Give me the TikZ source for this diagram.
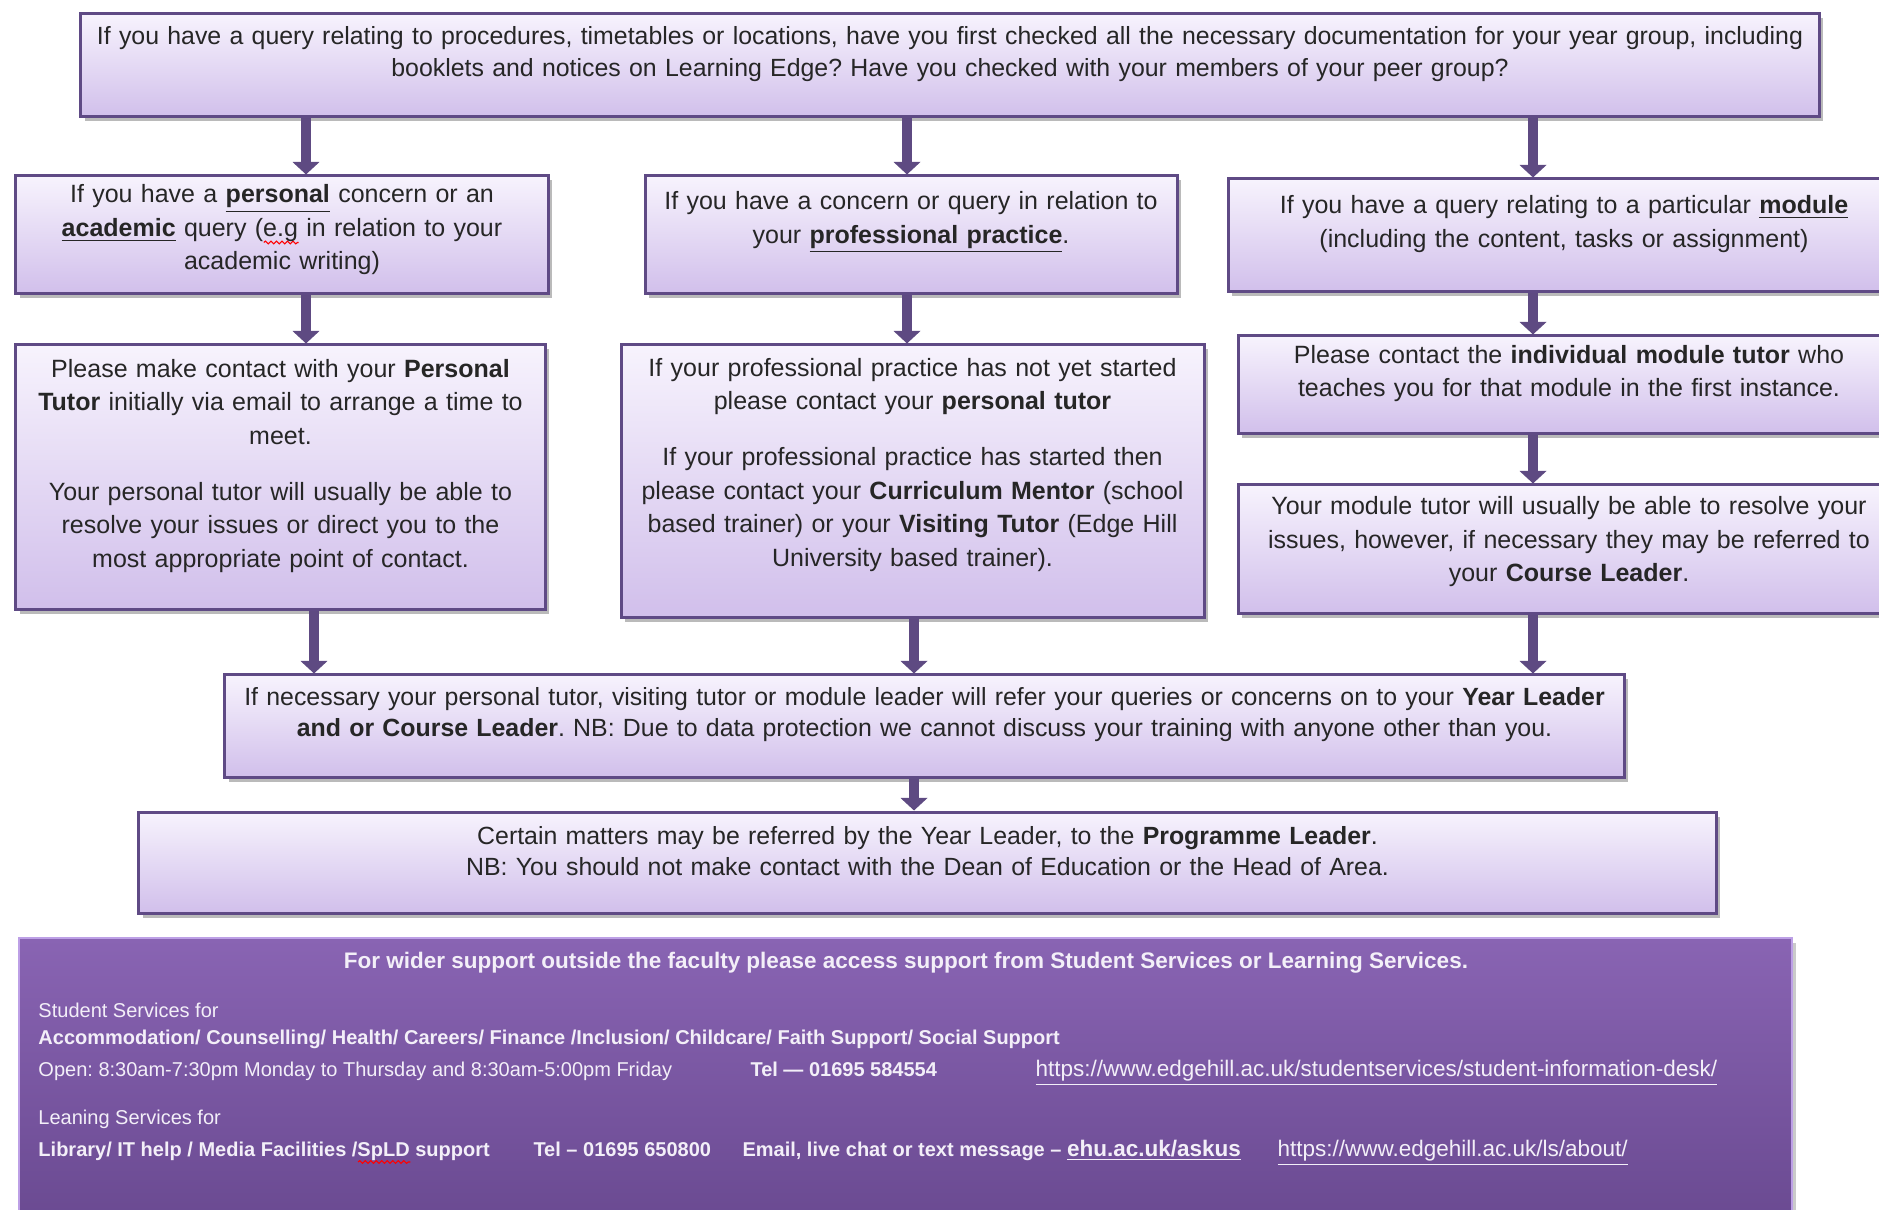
\documentclass[tikz,border=0pt]{standalone}
\usepackage{fontspec}
\setmainfont{Liberation Sans}
\usepackage{tikz}
\usetikzlibrary{arrows.meta,shadows,decorations.pathmorphing}
\frenchspacing
\definecolor{boxtop}{HTML}{F7F3FD}
\definecolor{boxbot}{HTML}{D1BFEB}
\definecolor{boxline}{HTML}{5F4A85}
\definecolor{arrowcol}{HTML}{5E4A82}
\definecolor{textgrey}{HTML}{262626}
\definecolor{widertop}{HTML}{8964B3}
\definecolor{widerbot}{HTML}{694990}
\definecolor{wideredge}{HTML}{BDA0E6}
\definecolor{infotext}{HTML}{F3EFF8}
\tikzset{
  flowbox/.style  = {draw=boxline,line width=1.2pt,top color=boxtop,bottom color=boxbot,
                     align=center,text=textgrey,inner xsep=1pt,inner ysep=2pt,
                     drop shadow={shadow xshift=1.6pt,shadow yshift=-1.8pt,opacity=.45,fill=black!60},
                     execute at end node={\par\kern#1}},
  flowbox/.default = 9pt,
  mainsz/.style   = {font=\fontsize{10}{13.4}\selectfont},
  widesz/.style   = {font=\fontsize{9.95}{12.6}\selectfont},
  widerbox/.style = {draw=wideredge,line width=1pt,top color=widertop,bottom color=widerbot,
                     drop shadow={shadow xshift=1.6pt,shadow yshift=-1.8pt,opacity=.35,fill=black!60}},
  infotxt/.style  = {anchor=base west,inner sep=0pt,text=infotext,font=\fontsize{8}{9}\selectfont},
  infobold/.style = {infotxt,font=\fontsize{8}{9}\selectfont\bfseries},
  infolink/.style = {infotxt,font=\fontsize{9}{9}\selectfont},
  arr/.style      = {-{Triangle[width=10.5pt,length=5pt]},line width=3.8pt,draw=arrowcol},
}
% red spell-check wave under a word
\newsavebox{\spellbox}
\newlength{\spellwd}
\newcommand{\spellwave}[1]{\sbox{\spellbox}{#1}\setlength{\spellwd}{\wd\spellbox}%
  \rlap{\tikz[baseline=0pt,x=1pt,y=1pt]\draw[red,line width=.45pt,decorate,
        decoration={snake,amplitude=.55pt,segment length=2.2pt}] (0pt,-2.4pt) -- (\spellwd,-2.4pt);}%
  \usebox{\spellbox}}

\begin{document}
\begin{tikzpicture}[x=0.4pt,y=-0.4pt]
  \useasboundingbox (0,0) rectangle (1879,1210);
  \clip (0,0) rectangle (1879,1210);

  % columns of the down arrows
  \coordinate (colA) at (306,0);
  \coordinate (colB) at (907,0);
  \coordinate (colC) at (1533,0);
  \coordinate (colD) at (314,0);
  \coordinate (colE) at (914,0);

  \node[flowbox,widesz,minimum width=695.2pt,minimum height=41.2pt,text width=693pt] (query) at (950,65.5)
    {If you have a query relating to procedures, timetables or locations, have you first checked all the necessary documentation for your year group, including\\
     booklets and notices on Learning Edge? Have you checked with your members of your peer group?};

  \node[flowbox=4pt,mainsz,minimum width=212.8pt,minimum height=47.2pt,text width=210pt] (pers) at (282,235)
    {If you have a \underline{\textbf{personal}} concern or an\\
     \underline{\textbf{academic}} query (\spellwave{e.g} in relation to your\\ academic writing)};
  \node[flowbox=10pt,mainsz,minimum width=212.8pt,minimum height=47.2pt,text width=210pt] (prof) at (911,235)
    {If you have a concern or query in relation to\\ your \underline{\textbf{professional practice}}.};
  \node[flowbox,mainsz,minimum width=268.8pt,minimum height=45.2pt,text width=266pt] (modq) at (1564,235.5)
    {If you have a query relating to a particular \underline{\textbf{module}}\\ (including the content, tasks or assignment)};

  \node[flowbox,mainsz,minimum width=211.6pt,minimum height=105.6pt,text width=209pt] (ptutor) at (280.5,477)
    {Please make contact with your \textbf{Personal}\\ \textbf{Tutor} initially via email to arrange a time to\\ meet.\\[9pt]
     Your personal tutor will usually be able to\\ resolve your issues or direct you to the\\ most appropriate point of contact.};
  \node[flowbox=13pt,mainsz,minimum width=233.2pt,minimum height=108.8pt,text width=231pt] (placement) at (912.5,481)
    {If your professional practice has not yet started\\ please contact your \textbf{personal tutor}\\[9pt]
     If your professional practice has started then\\ please contact your \textbf{Curriculum Mentor} (school\\
     based trainer) or your \textbf{Visiting Tutor} (Edge Hill\\ University based trainer).};
  \node[flowbox,mainsz,minimum width=264.8pt,minimum height=39.2pt,text width=262pt] (mtutor) at (1569,385)
    {Please contact the \textbf{individual module tutor} who\\ teaches you for that module in the first instance.};
  \node[flowbox=6pt,mainsz,minimum width=264.8pt,minimum height=51.6pt,text width=262pt] (mresolve) at (1569,549.5)
    {Your module tutor will usually be able to resolve your\\ issues, however, if necessary they may be referred to\\
     your \textbf{Course Leader}.};

  \node[flowbox,widesz,minimum width=559.6pt,minimum height=40.8pt,text width=557pt] (refer) at (924.5,726)
    {If necessary your personal tutor, visiting tutor or module leader will refer your queries or concerns on to your \textbf{Year Leader}\\
     \textbf{and or Course Leader}. NB: Due to data protection we cannot discuss your training with anyone other than you.};
  \node[flowbox,widesz,minimum width=630.8pt,minimum height=40.4pt,text width=628pt] (prog) at (927.5,862.5)
    {Certain matters may be referred by the Year Leader, to the \textbf{Programme Leader}.\\
     NB: You should not make contact with the Dean of Education or the Head of Area.};

  \foreach \a/\b/\c in {query/pers/colA,query/prof/colB,query/modq/colC,
                        pers/ptutor/colA,prof/placement/colB,modq/mtutor/colC,
                        mtutor/mresolve/colC,ptutor/refer/colD,placement/refer/colE,
                        mresolve/refer/colC,refer/prog/colE}
     \draw[arr] (\a.south -| \c) -- (\b.north -| \c);

  % wider support panel
  \node[widerbox,minimum width=709.2pt,minimum height=116.8pt] (wider) at (905.5,1084) {};
  \node[infobold,anchor=base,font=\fontsize{9}{9}\selectfont\bfseries] (wtitle) at (906,968)
    {For wider support outside the faculty please access support from Student Services or Learning Services.};
  \node[infotxt] (ssfor) at (38,1017) {Student Services for};
  \node[infobold] (sslist) at (38,1044)
    {Accommodation/ Counselling/ Health/ Careers/ Finance /Inclusion/ Childcare/ Faith Support/ Social Support};
  \node[infotxt] (ssopen) at (38,1076) {Open: 8:30am-7:30pm Monday to Thursday and 8:30am-5:00pm Friday};
  \node[infobold] (sstel) at (750,1076) {Tel — 01695 584554};
  \node[infolink] (ssurl) at (1035,1076) {\underline{https://www.edgehill.ac.uk/studentservices/student-information-desk/}};
  \node[infotxt] (lsfor) at (38,1124) {Leaning Services for};
  \node[infobold] (lslist) at (38,1156) {Library/ IT help / Media Facilities /\spellwave{SpLD} support};
  \node[infobold] (lstel) at (533,1156) {Tel – 01695 650800};
  \node[infobold] (lsmail) at (742,1156)
    {Email, live chat or text message – \underline{\fontsize{9}{9}\selectfont ehu.ac.uk/askus}};
  \node[infolink] (lsurl) at (1277,1156) {\underline{https://www.edgehill.ac.uk/ls/about/}};
\end{tikzpicture}
\end{document}
